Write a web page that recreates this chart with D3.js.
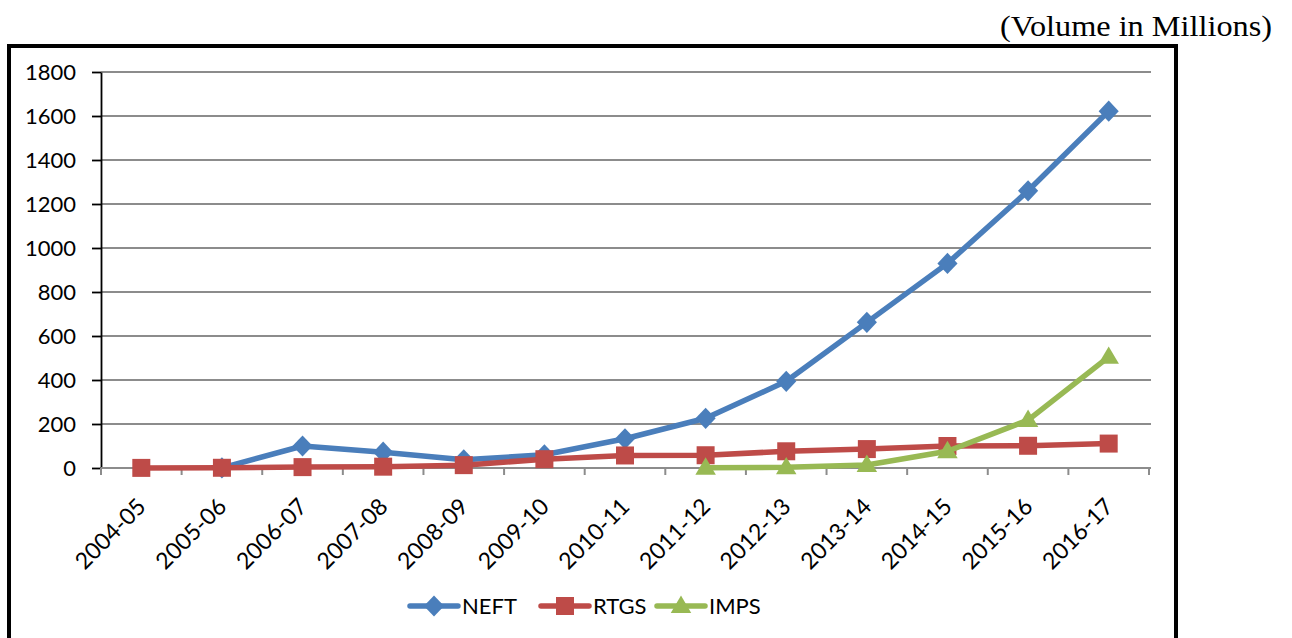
<!DOCTYPE html>
<html>
<head>
<meta charset="utf-8">
<script src="https://cdn.jsdelivr.net/npm/d3@7"></script>
<style>
  html, body { margin: 0; padding: 0; background: #fff; }
  svg { display: block; }
</style>
</head>
<body>
<svg id="chart" width="1292" height="638"></svg>
<script>
// Payment-system transaction volumes (millions), by fiscal year
const categories = ["2004-05", "2005-06", "2006-07", "2007-08", "2008-09", "2009-10",
  "2010-11", "2011-12", "2012-13", "2013-14", "2014-15", "2015-16", "2016-17"];
const neftValues = [null, 0.3, 100, 72, 37, 60, 133, 226, 394, 662, 930, 1260, 1622];
const rtgsValues = [0.5, 1, 4, 6, 13, 40, 57, 58, 76, 86, 100, 101, 111];
const impsValues = [null, null, null, null, null, null, null, 1, 3, 14, 76, 218, 505];
const yTickValues = [0, 200, 400, 600, 800, 1000, 1200, 1400, 1600, 1800];
const seriesNames = ["NEFT", "RTGS", "IMPS"];

// Marker shapes: diamond (rotated square), square, triangle
const diamond = {
  draw(ctx, size) {
    const r = Math.sqrt(size) / 2;
    ctx.moveTo(0, -r); ctx.lineTo(r * 0.95, 0); ctx.lineTo(0, r); ctx.lineTo(-r * 0.95, 0); ctx.closePath();
  }
};
const square = {
  draw(ctx, size) {
    const h = Math.sqrt(size) / 2;
    ctx.rect(-h, -h, 2 * h, 2 * h);
  }
};
const triangle = {
  draw(ctx, size) {
    const w = Math.sqrt(size);
    const h = w * 0.85;
    ctx.moveTo(0, -h * 0.6); ctx.lineTo(w / 2, h * 0.4); ctx.lineTo(-w / 2, h * 0.4); ctx.closePath();
  }
};

const series = [
  { name: seriesNames[0], values: neftValues, color: "#4A7EBB", marker: diamond, size: 450 },
  { name: seriesNames[1], values: rtgsValues, color: "#BE4B48", marker: square, size: 324 },
  { name: seriesNames[2], values: impsValues, color: "#98B954", marker: triangle, size: 420 }
];

const svg = d3.select("#chart");
const font = "Lato, 'Open Sans', sans-serif";

const plot = { left: 101, right: 1149, top: 72, bottom: 468 };

const x = d3.scaleBand().domain(categories).range([plot.left, plot.right]).padding(0);
const y = d3.scaleLinear().domain([0, 1800]).range([plot.bottom, plot.top]);
const cx = c => x(c) + x.bandwidth() / 2;

// Unit note above the frame
svg.append("text")
  .attr("x", 1272).attr("y", 36)
  .attr("text-anchor", "end")
  .attr("textLength", 272)
  .attr("lengthAdjust", "spacingAndGlyphs")
  .style("font-family", "'Liberation Serif', 'Times New Roman', serif")
  .style("font-size", "29px")
  .attr("fill", "#000")
  .text("(Volume in Millions)");

// Chart frame (open at the bottom edge of the page)
svg.append("path")
  .attr("d", "M9,660 L9,46 L1176,46 L1176,660")
  .attr("fill", "none")
  .attr("stroke", "#000")
  .attr("stroke-width", 4);

// Horizontal gridlines
svg.append("g")
  .selectAll("line")
  .data(yTickValues.filter(v => v > 0))
  .join("line")
  .attr("x1", plot.left).attr("x2", plot.right + 2)
  .attr("y1", d => y(d)).attr("y2", d => y(d))
  .attr("stroke", "#8C8C8C")
  .attr("stroke-width", 2);

// Y axis
const yAxis = svg.append("g")
  .attr("transform", `translate(${plot.left},0)`)
  .call(d3.axisLeft(y).tickValues(yTickValues).tickFormat(d3.format("d"))
    .tickSize(9).tickPadding(16).tickSizeOuter(0));
yAxis.select(".domain").attr("stroke", "#000").attr("stroke-width", 1.8);
yAxis.selectAll(".tick line").attr("stroke", "#000").attr("stroke-width", 1.8);
yAxis.selectAll(".tick text")
  .style("font-family", font).style("font-size", "22px").attr("fill", "#000");

// X axis line, category boundary ticks and rotated labels
const xAxis = svg.append("g")
  .attr("transform", `translate(0,${plot.bottom})`)
  .call(d3.axisBottom(x).tickSize(0).tickSizeOuter(0));
xAxis.select(".domain").attr("stroke", "#8C8C8C").attr("stroke-width", 2)
  .attr("d", `M${plot.left},0H${plot.right + 2}`);
xAxis.selectAll(".tick text")
  .attr("x", 0).attr("y", 0).attr("dy", null)
  .attr("transform", "translate(6,40) rotate(-45)")
  .style("text-anchor", "end")
  .style("font-family", font).style("font-size", "23px").attr("fill", "#000");

const boundaries = categories.map(c => x(c)).concat([x(categories[categories.length - 1]) + x.bandwidth()]);
xAxis.append("g")
  .selectAll("line")
  .data(boundaries)
  .join("line")
  .attr("x1", d => d).attr("x2", d => d)
  .attr("y1", 0).attr("y2", 7)
  .attr("stroke", "#8C8C8C").attr("stroke-width", 2);

// Series lines and markers
const line = d3.line()
  .defined(d => d.v != null)
  .x(d => cx(d.c))
  .y(d => y(d.v));

series.forEach(s => {
  const pts = categories.map((c, i) => ({ c, v: s.values[i] }));
  const g = svg.append("g");
  g.append("path")
    .datum(pts)
    .attr("d", line)
    .attr("fill", "none")
    .attr("stroke", s.color)
    .attr("stroke-width", 5.5)
    .attr("stroke-linejoin", "round")
    .attr("stroke-linecap", "round");
  g.selectAll("path.marker")
    .data(pts.filter(d => d.v != null))
    .join("path")
    .attr("class", "marker")
    .attr("transform", d => `translate(${cx(d.c)},${y(d.v)})`)
    .attr("d", d3.symbol().type(s.marker).size(s.size))
    .attr("fill", s.color);
});

// Legend
const legendItems = [
  { s: series[0], x: 410 },
  { s: series[1], x: 541 },
  { s: series[2], x: 657 }
];
const legendY = 606;
const lg = svg.append("g");
legendItems.forEach(item => {
  const g = lg.append("g").attr("transform", `translate(${item.x},${legendY})`);
  g.append("line")
    .attr("x1", 0).attr("x2", 48).attr("y1", 0).attr("y2", 0)
    .attr("stroke", item.s.color).attr("stroke-width", 5.5).attr("stroke-linecap", "round");
  g.append("path")
    .attr("transform", "translate(24,0)")
    .attr("d", d3.symbol().type(item.s.marker).size(item.s.size))
    .attr("fill", item.s.color);
  g.append("text")
    .attr("x", 52).attr("y", 0).attr("dy", "0.36em")
    .style("font-family", font).style("font-size", "22px").attr("fill", "#000")
    .text(item.s.name);
});
</script>
</body>
</html>
